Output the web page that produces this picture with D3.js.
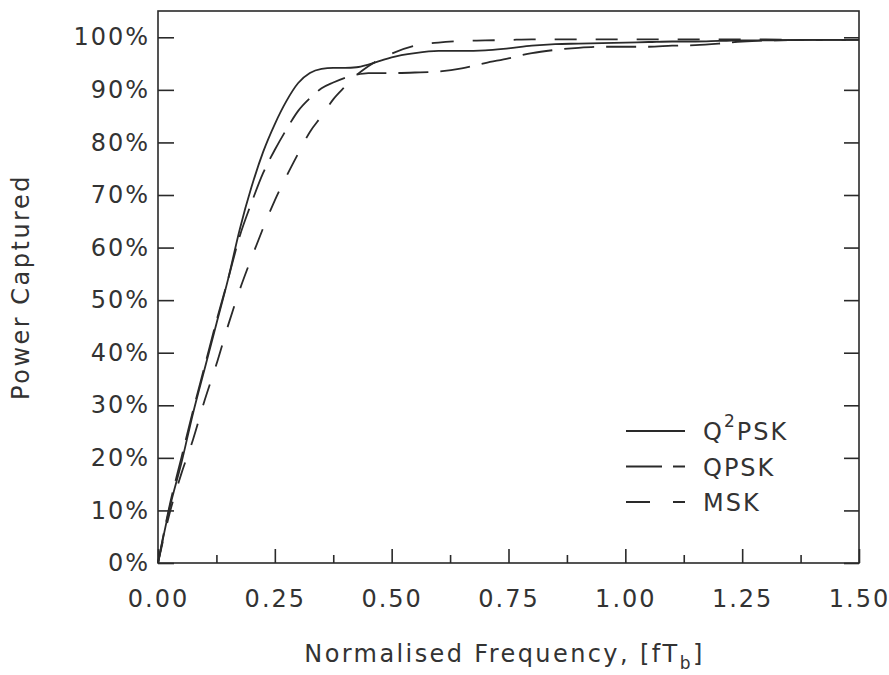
<!DOCTYPE html>
<html>
<head>
<meta charset="utf-8">
<script src="https://cdn.jsdelivr.net/npm/d3@7"></script>
<style>
  body { margin: 0; background: #fff; }
  svg text { font-family: "DejaVu Sans", sans-serif; fill: #333; }
</style>
</head>
<body>
<div id="chart"></div>
<script>
// normalised frequency fTb, and fraction of power captured for each scheme
const freq = [0, 0.025, 0.05, 0.075, 0.1, 0.125, 0.15, 0.175, 0.2, 0.225, 0.25, 0.275, 0.3, 0.325, 0.35, 0.375, 0.4, 0.425, 0.45, 0.475, 0.5,
  0.55, 0.6, 0.65, 0.7, 0.75, 0.8, 0.85, 0.9, 0.95, 1.0, 1.05, 1.1, 1.15, 1.2, 1.25, 1.3, 1.4, 1.5];
const q2psk = [0, 0.105, 0.19, 0.285, 0.37, 0.455, 0.54, 0.635, 0.715, 0.782, 0.835, 0.879, 0.913, 0.932, 0.940, 0.942, 0.942, 0.943, 0.948, 0.955, 0.962,
  0.970, 0.974, 0.974, 0.975, 0.979, 0.984, 0.987, 0.988, 0.989, 0.990, 0.991, 0.992, 0.992, 0.993, 0.994, 0.994, 0.995, 0.995];
const qpsk = [0, 0.11, 0.2, 0.29, 0.375, 0.46, 0.54, 0.622, 0.685, 0.742, 0.786, 0.825, 0.86, 0.884, 0.903, 0.914, 0.923, 0.929, 0.932, 0.932, 0.932,
  0.933, 0.935, 0.941, 0.951, 0.960, 0.970, 0.976, 0.980, 0.982, 0.982, 0.982, 0.984, 0.985, 0.988, 0.992, 0.994, 0.995, 0.995];
const msk = [0, 0.095, 0.17, 0.235, 0.31, 0.378, 0.452, 0.52, 0.58, 0.637, 0.69, 0.736, 0.779, 0.82, 0.85, 0.882, 0.906, 0.928, 0.945, 0.958, 0.969,
  0.984, 0.990, 0.993, 0.994, 0.995, 0.996, 0.996, 0.996, 0.996, 0.996, 0.996, 0.996, 0.996, 0.996, 0.996, 0.996, 0.995, 0.995];

const seriesNames = ["Q2PSK", "QPSK", "MSK"];
const xTicks = [0, 0.25, 0.5, 0.75, 1.0, 1.25, 1.5];
const xMinorTicks = [0.125, 0.375, 0.625, 0.875, 1.125, 1.375];
const yTicks = [0, 0.1, 0.2, 0.3, 0.4, 0.5, 0.6, 0.7, 0.8, 0.9, 1.0];

const width = 889, height = 675;
const plotLeft = 158, plotRight = 859, plotTop = 11, plotBottom = 563;
const fontSize = 24;

const svg = d3.select("#chart").append("svg")
    .attr("width", width)
    .attr("height", height);

const x = d3.scaleLinear().domain([0, 1.5]).range([plotLeft, plotRight]);
const y = d3.scaleLinear().domain([0, 1.05]).range([plotBottom, plotTop]);

const ink = "#2a2a2a";

// frame
svg.append("rect")
    .attr("x", plotLeft).attr("y", plotTop)
    .attr("width", plotRight - plotLeft).attr("height", plotBottom - plotTop)
    .attr("fill", "none").attr("stroke", ink).attr("stroke-width", 1.6);

function styleAxis(g) {
    g.select(".domain").remove();
    g.selectAll(".tick line").attr("stroke", ink).attr("stroke-width", 1.6);
    g.selectAll(".tick text").attr("font-size", fontSize).attr("letter-spacing", 2).attr("fill", "#333");
}

svg.append("g")
    .attr("transform", `translate(${plotLeft},0)`)
    .call(d3.axisLeft(y).tickValues(yTicks).tickSize(-16).tickPadding(8).tickFormat(d3.format(".0%")))
    .call(styleAxis);

svg.append("g")
    .attr("transform", `translate(${plotRight},0)`)
    .call(d3.axisRight(y).tickValues(yTicks).tickSize(-15).tickFormat(""))
    .call(styleAxis);

svg.append("g")
    .attr("transform", `translate(0,${plotBottom})`)
    .call(d3.axisBottom(x).tickValues(xTicks).tickSize(-14).tickPadding(27).tickFormat(d3.format(".2f")))
    .call(styleAxis);

svg.append("g")
    .attr("transform", `translate(0,${plotBottom})`)
    .call(d3.axisBottom(x).tickValues(xMinorTicks).tickSize(-8).tickFormat(""))
    .call(styleAxis);

// curves
const dashes = [null, "30,12", "22,19"];
const legendDashes = [null, "36,11,12,11", "24,23,12,23"];
const series = [q2psk, qpsk, msk];

const line = d3.line()
    .x((d, i) => x(freq[i]))
    .y(d => y(d))
    .curve(d3.curveMonotoneX);

svg.selectAll(".curve")
    .data(series)
    .enter()
    .append("path")
    .attr("class", "curve")
    .attr("d", line)
    .attr("fill", "none")
    .attr("stroke", ink)
    .attr("stroke-width", 1.8)
    .attr("stroke-dasharray", (d, i) => dashes[i]);

// legend
const legend = svg.append("g").attr("transform", "translate(626,431)");
seriesNames.forEach(function(name, i) {
    const row = legend.append("g").attr("transform", `translate(0,${i * 35.5})`);
    row.append("line")
        .attr("x1", 0).attr("x2", 59)
        .attr("stroke", ink).attr("stroke-width", 1.8)
        .attr("stroke-dasharray", legendDashes[i]);
    const t = row.append("text")
        .attr("x", 77).attr("y", 9)
        .attr("font-size", fontSize).attr("letter-spacing", 2);
    if (name === "Q2PSK") {
        t.append("tspan").text("Q");
        t.append("tspan").attr("font-size", 17).attr("dy", -13).text("2");
        t.append("tspan").attr("dy", 13).text("PSK");
    } else {
        t.text(name);
    }
});

// axis titles
svg.append("text")
    .attr("transform", `translate(29,${(plotTop + plotBottom) / 2}) rotate(-90)`)
    .attr("text-anchor", "middle")
    .attr("font-size", fontSize).attr("letter-spacing", 2.5)
    .text("Power Captured");

const xt = svg.append("text")
    .attr("x", (plotLeft + plotRight) / 2 - 4).attr("y", 662)
    .attr("text-anchor", "middle")
    .attr("font-size", fontSize).attr("letter-spacing", 2.4);
xt.append("tspan").text("Normalised Frequency, [fT");
xt.append("tspan").attr("font-size", 17).attr("dy", 7).text("b");
xt.append("tspan").attr("dy", -7).text("]");
</script>
</body>
</html>
